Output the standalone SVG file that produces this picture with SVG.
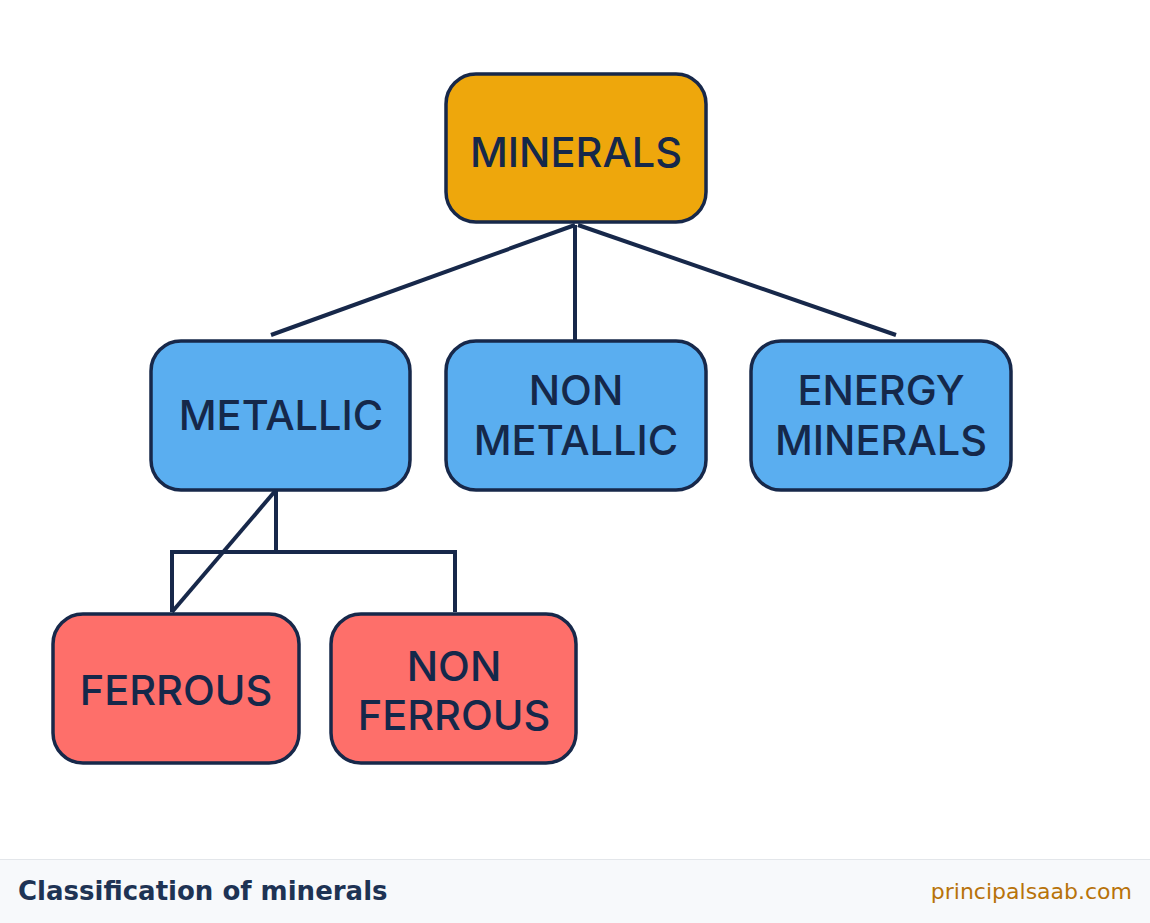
<svg xmlns="http://www.w3.org/2000/svg" width="1150" height="923" viewBox="0 0 1150 923">
<style>
.box{stroke:#17284a;stroke-width:3.5}
.orange{fill:#eea70c}
.blue{fill:#5aaef0}
.red{fill:#fe6f6a}
.lbl{font-family:Inter,"Liberation Sans",sans-serif;font-size:41.5px;font-weight:500;fill:#15284a;text-anchor:middle}
.conn{stroke:#17284a;stroke-width:4;fill:none;stroke-linecap:butt}
</style>
<rect width="1150" height="923" fill="#ffffff"/>
<g id="connectors">
<line class="conn" x1="575" y1="225" x2="271" y2="335"/>
<line class="conn" x1="575" y1="225" x2="575" y2="341"/>
<line class="conn" x1="578" y1="225" x2="896" y2="335"/>
<line class="conn" x1="276" y1="490" x2="276" y2="552"/>
<polyline class="conn" points="172,612 172,552 455,552 455,612"/>
<line class="conn" x1="276" y1="490" x2="172" y2="612"/>
</g>
<g id="minerals">
<rect class="box orange" x="446" y="74" width="260" height="148" rx="30"/>
<text class="lbl" x="576" y="167">MINERALS</text>
</g>
<g id="metallic">
<rect class="box blue" x="151" y="341" width="259" height="149" rx="30"/>
<text class="lbl" x="281" y="430">METALLIC</text>
</g>
<g id="non-metallic">
<rect class="box blue" x="446" y="341" width="260" height="149" rx="30"/>
<text class="lbl" x="576" y="405">NON</text>
<text class="lbl" x="576" y="455">METALLIC</text>
</g>
<g id="energy-minerals">
<rect class="box blue" x="751" y="341" width="260" height="149" rx="30"/>
<text class="lbl" x="881" y="405">ENERGY</text>
<text class="lbl" x="881" y="455">MINERALS</text>
</g>
<g id="ferrous">
<rect class="box red" x="53" y="614" width="246" height="149" rx="30"/>
<text class="lbl" x="176" y="705">FERROUS</text>
</g>
<g id="non-ferrous">
<rect class="box red" x="331" y="614" width="245" height="149" rx="30"/>
<text class="lbl" x="454" y="681">NON</text>
<text class="lbl" x="454" y="730">FERROUS</text>
</g>
<g id="footer">
<rect x="0" y="859" width="1150" height="64" fill="#f7f9fb"/>
<line x1="0" y1="859.5" x2="1150" y2="859.5" stroke="#e3e6ea" stroke-width="1"/>
<text x="18" y="900" font-family="'DejaVu Sans',sans-serif" font-weight="bold" font-size="26" fill="#1e3354">Classification of minerals</text>
<text x="1132" y="899" font-family="'DejaVu Sans',sans-serif" font-size="22" fill="#b8730a" text-anchor="end">principalsaab.com</text>
</g>
</svg>
